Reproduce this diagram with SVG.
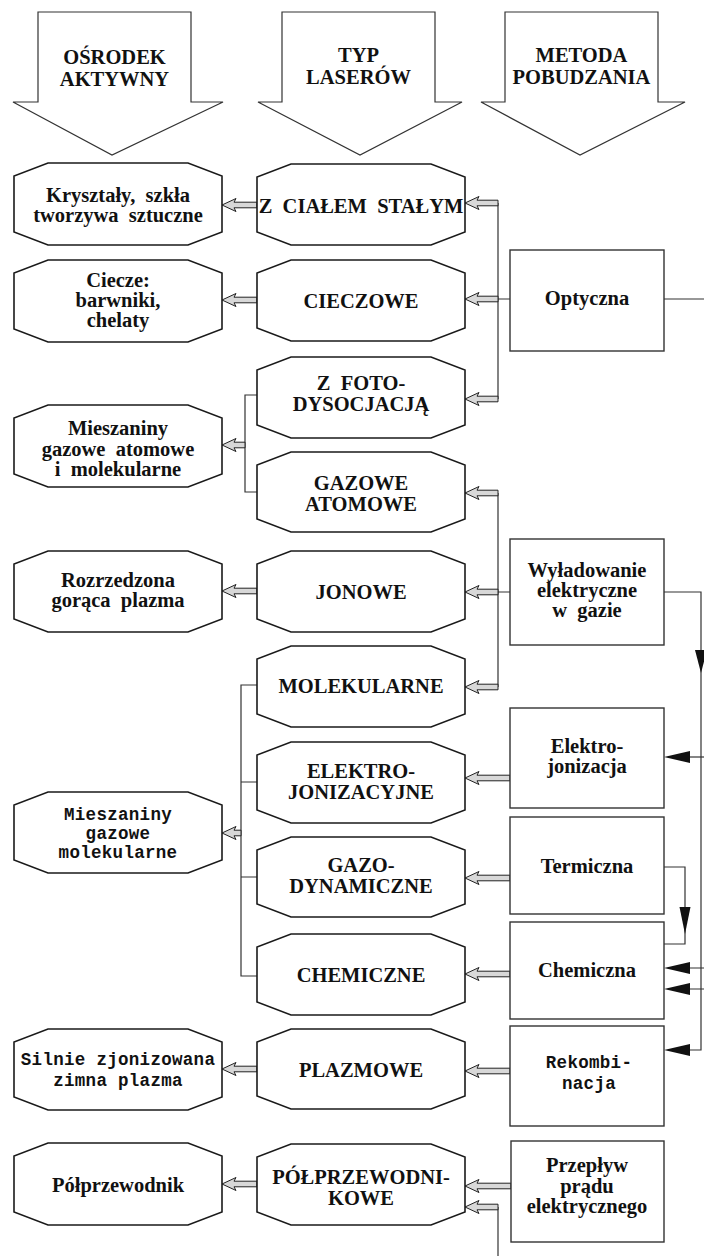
<svg xmlns="http://www.w3.org/2000/svg" width="704" height="1256" viewBox="0 0 704 1256">
<style>
.hdr{fill:#fff;stroke:#333;stroke-width:1.2}
.oct{fill:#fff;stroke:#1a1a1a;stroke-width:1.6}
.box{fill:#fff;stroke:#333;stroke-width:1.4}
.t{font-family:"Liberation Serif","Times New Roman",serif;font-weight:bold;font-size:20.5px;text-anchor:middle;fill:#111}
.m{font-family:"Liberation Mono","Courier New",monospace;font-weight:bold;font-size:17.5px;letter-spacing:0.3px;text-anchor:middle;fill:#111}
.ln{fill:none;stroke:#333;stroke-width:1.2}
.ba{fill:#d8d8d8;stroke:#222;stroke-width:1}
.ah{fill:#111;stroke:none}
</style>
<rect width="704" height="1256" fill="#fff"/>

<g id="headers">
  <g id="h-osrodek">
    <polygon class="hdr" points="38,12 191,12 191,102 223,102 112,155 13,102 38,102"/>
    <text class="t" x="114.5" y="64">OŚRODEK</text>
    <text class="t" x="114.5" y="86">AKTYWNY</text>
  </g>
  <g id="h-typ">
    <polygon class="hdr" points="282,12 435,12 435,102 462,102 360,155 258,102 282,102"/>
    <text class="t" x="358.5" y="62">TYP</text>
    <text class="t" x="358.5" y="84">LASERÓW</text>
  </g>
  <g id="h-metoda">
    <polygon class="hdr" points="505,12 658,12 658,102 685,102 580,155 481,102 505,102"/>
    <text class="t" x="581.5" y="62">METODA</text>
    <text class="t" x="581.5" y="84">POBUDZANIA</text>
  </g>
</g>

<g id="connectors">
  <!-- Optyczna -->
  <path class="ln" d="M498,203 V399 M498,299 H510 M664,299 H704"/>
  <path class="ba" d="M465,203 L479,196.5 L477,200.2 L498,200.2 L498,205.8 L477,205.8 L479,209.5 Z"/>
  <path class="ba" d="M465,299 L479,292.5 L477,296.2 L498,296.2 L498,301.8 L477,301.8 L479,305.5 Z"/>
  <path class="ba" d="M465,399 L479,392.5 L477,396.2 L498,396.2 L498,401.8 L477,401.8 L479,405.5 Z"/>
  <!-- Wyladowanie -->
  <path class="ln" d="M498,493 V687 M498,592 H510 M664,592 H701 V1050 H688"/>
  <path class="ba" d="M465,493 L479,486.5 L477,490.2 L498,490.2 L498,495.8 L477,495.8 L479,499.5 Z"/>
  <path class="ba" d="M465,592 L479,585.5 L477,589.2 L498,589.2 L498,594.8 L477,594.8 L479,598.5 Z"/>
  <path class="ba" d="M465,687 L479,680.5 L477,684.2 L498,684.2 L498,689.8 L477,689.8 L479,693.5 Z"/>
  <path class="ah" d="M695,650 L707,650 L701,673 Z"/>
  <path class="ah" d="M664,1050 L690,1044 L690,1056 Z"/>
  <!-- Elektrojonizacja -->
  <path class="ln" d="M688,757 H704"/>
  <path class="ah" d="M664,757 L690,751 L690,763 Z"/>
  <path class="ba" d="M465,778 L479,771.5 L477,775.2 L510,775.2 L510,780.8 L477,780.8 L479,784.5 Z"/>
  <!-- Termiczna -->
  <path class="ln" d="M664,867 H685 V944 H664"/>
  <path class="ah" d="M679.5,907 L690.5,907 L685,934 Z"/>
  <path class="ba" d="M465,878 L479,871.5 L477,875.2 L510,875.2 L510,880.8 L477,880.8 L479,884.5 Z"/>
  <!-- Chemiczna -->
  <path class="ln" d="M688,968 H704 M688,989 H704"/>
  <path class="ah" d="M664,968 L690,962 L690,974 Z"/>
  <path class="ah" d="M664,989 L690,983 L690,995 Z"/>
  <path class="ba" d="M465,974 L479,967.5 L477,971.2 L510,971.2 L510,976.8 L477,976.8 L479,980.5 Z"/>
  <!-- Rekombinacja -->
  <path class="ba" d="M465,1071 L479,1064.5 L477,1068.2 L510,1068.2 L510,1073.8 L477,1073.8 L479,1077.5 Z"/>
  <!-- Przeplyw -->
  <path class="ba" d="M465,1186 L479,1179.5 L477,1183.2 L511,1183.2 L511,1188.8 L477,1188.8 L479,1192.5 Z"/>
  <path class="ln" d="M498,1207 V1256"/>
  <path class="ba" d="M465,1207 L479,1200.5 L477,1204.2 L498,1204.2 L498,1209.8 L477,1209.8 L479,1213.5 Z"/>
  <!-- left side -->
  <path class="ba" d="M222,205 L236,198.5 L234,202.2 L257,202.2 L257,207.8 L234,207.8 L236,211.5 Z"/>
  <path class="ba" d="M222,300 L236,293.5 L234,297.2 L257,297.2 L257,302.8 L234,302.8 L236,306.5 Z"/>
  <path class="ln" d="M257,395 H245 V492 H257"/>
  <path class="ba" d="M222,445 L236,438.5 L234,442.2 L245,442.2 L245,447.8 L234,447.8 L236,451.5 Z"/>
  <path class="ba" d="M222,591 L236,584.5 L234,588.2 L257,588.2 L257,593.8 L234,593.8 L236,597.5 Z"/>
  <path class="ln" d="M257,685 H241 V976 H257 M241,782 H257 M241,877 H257"/>
  <path class="ba" d="M222,833 L236,826.5 L234,830.2 L241,830.2 L241,835.8 L234,835.8 L236,839.5 Z"/>
  <path class="ba" d="M222,1069 L236,1062.5 L234,1066.2 L257,1066.2 L257,1071.8 L234,1071.8 L236,1075.5 Z"/>
  <path class="ba" d="M222,1184 L236,1177.5 L234,1181.2 L257,1181.2 L257,1186.8 L234,1186.8 L236,1190.5 Z"/>
</g>

<g id="left-nodes">
  <g id="n-krysztaly">
    <polygon class="oct" points="48,163 188,163 222,176 222,232 188,245 48,245 14,232 14,176"/>
    <text class="t" x="118" y="202" xml:space="preserve">Kryształy,  szkła</text>
    <text class="t" x="118" y="222" xml:space="preserve">tworzywa  sztuczne</text>
  </g>
  <g id="n-ciecze">
    <polygon class="oct" points="48,260 188,260 222,273 222,329 188,342 48,342 14,329 14,273"/>
    <text class="t" x="118" y="287">Ciecze:</text>
    <text class="t" x="118" y="307">barwniki,</text>
    <text class="t" x="118" y="327">chelaty</text>
  </g>
  <g id="n-mieszaniny-atom">
    <polygon class="oct" points="48,405 188,405 222,418 222,474 188,487 48,487 14,474 14,418"/>
    <text class="t" x="118" y="435">Mieszaniny</text>
    <text class="t" x="118" y="455.5" xml:space="preserve">gazowe  atomowe</text>
    <text class="t" x="118" y="476" xml:space="preserve">i  molekularne</text>
  </g>
  <g id="n-rozrzedzona">
    <polygon class="oct" points="48,551 188,551 222,564 222,619 188,632 48,632 14,619 14,564"/>
    <text class="t" x="118" y="587">Rozrzedzona</text>
    <text class="t" x="118" y="607" xml:space="preserve">gorąca  plazma</text>
  </g>
  <g id="n-mieszaniny-mol">
    <polygon class="oct" points="48,792 188,792 222,805 222,860 188,873 48,873 14,860 14,805"/>
    <text class="m" x="118" y="820">Mieszaniny</text>
    <text class="m" x="118" y="839">gazowe</text>
    <text class="m" x="118" y="858">molekularne</text>
  </g>
  <g id="n-silnie">
    <polygon class="oct" points="48,1029 188,1029 222,1042 222,1097 188,1110 48,1110 14,1097 14,1042"/>
    <text class="m" x="118" y="1065">Silnie zjonizowana</text>
    <text class="m" x="118" y="1086">zimna plazma</text>
  </g>
  <g id="n-polprzewodnik">
    <polygon class="oct" points="48,1143 188,1143 222,1156 222,1212 188,1225 48,1225 14,1212 14,1156"/>
    <text class="t" x="118" y="1192">Półprzewodnik</text>
  </g>
</g>

<g id="middle-nodes">
  <g id="n-cialo">
    <polygon class="oct" points="291,164 431,164 465,177 465,232 431,245 291,245 257,232 257,177"/>
    <text class="t" x="361" y="213" xml:space="preserve">Z  CIAŁEM  STAŁYM</text>
  </g>
  <g id="n-cieczowe">
    <polygon class="oct" points="291,260 431,260 465,273 465,328 431,341 291,341 257,328 257,273"/>
    <text class="t" x="361" y="308">CIECZOWE</text>
  </g>
  <g id="n-foto">
    <polygon class="oct" points="291,357 431,357 465,370 465,425 431,438 291,438 257,425 257,370"/>
    <text class="t" x="361" y="390" xml:space="preserve">Z  FOTO-</text>
    <text class="t" x="361" y="411">DYSOCJACJĄ</text>
  </g>
  <g id="n-gazowe">
    <polygon class="oct" points="291,452 431,452 465,465 465,519 431,532 291,532 257,519 257,465"/>
    <text class="t" x="361" y="490">GAZOWE</text>
    <text class="t" x="361" y="511">ATOMOWE</text>
  </g>
  <g id="n-jonowe">
    <polygon class="oct" points="291,551 431,551 465,564 465,619 431,632 291,632 257,619 257,564"/>
    <text class="t" x="361" y="599">JONOWE</text>
  </g>
  <g id="n-molekularne">
    <polygon class="oct" points="291,646 431,646 465,659 465,714 431,727 291,727 257,714 257,659"/>
    <text class="t" x="361" y="693">MOLEKULARNE</text>
  </g>
  <g id="n-elektro">
    <polygon class="oct" points="291,742 431,742 465,755 465,810 431,823 291,823 257,810 257,755"/>
    <text class="t" x="361" y="778">ELEKTRO-</text>
    <text class="t" x="361" y="799">JONIZACYJNE</text>
  </g>
  <g id="n-gazo">
    <polygon class="oct" points="291,837 431,837 465,850 465,904 431,917 291,917 257,904 257,850"/>
    <text class="t" x="361" y="872">GAZO-</text>
    <text class="t" x="361" y="893">DYNAMICZNE</text>
  </g>
  <g id="n-chemiczne">
    <polygon class="oct" points="291,934 431,934 465,947 465,1002 431,1015 291,1015 257,1002 257,947"/>
    <text class="t" x="361" y="982">CHEMICZNE</text>
  </g>
  <g id="n-plazmowe">
    <polygon class="oct" points="291,1029 431,1029 465,1042 465,1096 431,1109 291,1109 257,1096 257,1042"/>
    <text class="t" x="361" y="1077">PLAZMOWE</text>
  </g>
  <g id="n-polprzewodnikowe">
    <polygon class="oct" points="291,1144 431,1144 465,1157 465,1212 431,1225 291,1225 257,1212 257,1157"/>
    <text class="t" x="361" y="1184">PÓŁPRZEWODNI-</text>
    <text class="t" x="361" y="1205">KOWE</text>
  </g>
</g>

<g id="right-nodes">
  <g id="n-optyczna">
    <rect class="box" x="510" y="250" width="154" height="101"/>
    <text class="t" x="587" y="305">Optyczna</text>
  </g>
  <g id="n-wyladowanie">
    <rect class="box" x="510" y="539" width="154" height="106"/>
    <text class="t" x="587" y="577">Wyładowanie</text>
    <text class="t" x="587" y="597">elektryczne</text>
    <text class="t" x="587" y="617" xml:space="preserve">w  gazie</text>
  </g>
  <g id="n-elektrojonizacja">
    <rect class="box" x="510" y="708" width="154" height="100"/>
    <text class="t" x="587" y="753">Elektro-</text>
    <text class="t" x="587" y="773">jonizacja</text>
  </g>
  <g id="n-termiczna">
    <rect class="box" x="510" y="817" width="154" height="97"/>
    <text class="t" x="587" y="873">Termiczna</text>
  </g>
  <g id="n-chemiczna">
    <rect class="box" x="510" y="922" width="154" height="97"/>
    <text class="t" x="587" y="977">Chemiczna</text>
  </g>
  <g id="n-rekombinacja">
    <rect class="box" x="510" y="1026" width="154" height="100"/>
    <text class="m" x="589" y="1068">Rekombi-</text>
    <text class="m" x="589" y="1089">nacja</text>
  </g>
  <g id="n-przeplyw">
    <rect class="box" x="511" y="1141" width="153" height="101"/>
    <text class="t" x="587" y="1172">Przepływ</text>
    <text class="t" x="587" y="1193">prądu</text>
    <text class="t" x="587" y="1213">elektrycznego</text>
  </g>
</g>
</svg>
